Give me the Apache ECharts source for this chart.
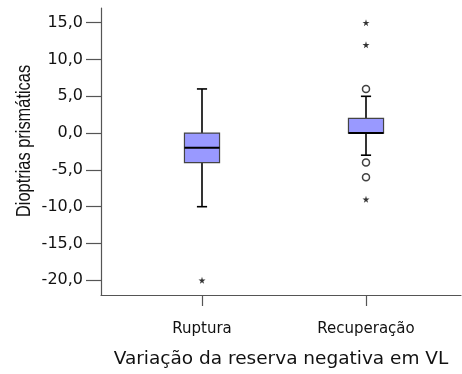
<!DOCTYPE html>
<html>
<head>
<meta charset="utf-8">
<script src="https://cdn.jsdelivr.net/npm/echarts@6/dist/echarts.min.js"></script>
<style>
  html, body { margin: 0; padding: 0; background: #fff; }
  #chart { width: 462px; height: 374px; }
</style>
</head>
<body>
<div id="chart"></div>
<script>
// dados
const categories = ['Ruptura', 'Recuperação'];
// [min, Q1, mediana, Q3, max] dos bigodes
const boxValues = [
  [-10, -4, -2, 0, 6],
  [-3, 0, 0, 2, 5]
];
// outliers (círculo) e extremos (estrela): [índice da categoria, valor]
const outliers = [[1, 6], [1, -4], [1, -6]];
const extremes = [[0, -20], [1, 15], [1, 12], [1, -9]];
const yTicks = [-20, -15, -10, -5, 0, 5, 10, 15];

const starPath = 'path://M50,0 L61,35 L98,35 L68,57 L79,91 L50,70 L21,91 L32,57 L2,35 L39,35 Z';

const chart = echarts.init(document.getElementById('chart'));

function renderBox(params, api) {
  const x = api.value(0);
  const band = api.size([1, 0])[0];
  const half = band * 0.107;
  const capHalf = band * 0.031;
  const pLow = api.coord([x, api.value(1)]);
  const pQ1 = api.coord([x, api.value(2)]);
  const pMed = api.coord([x, api.value(3)]);
  const pQ3 = api.coord([x, api.value(4)]);
  const pHigh = api.coord([x, api.value(5)]);
  const cx = pMed[0];
  const black = { stroke: '#000', lineWidth: 1.6 };
  return {
    type: 'group',
    children: [
      { type: 'line', shape: { x1: cx, y1: pHigh[1], x2: cx, y2: pQ3[1] }, style: black },
      { type: 'line', shape: { x1: cx, y1: pQ1[1], x2: cx, y2: pLow[1] }, style: black },
      { type: 'line', shape: { x1: cx - capHalf, y1: pHigh[1], x2: cx + capHalf, y2: pHigh[1] }, style: black },
      { type: 'line', shape: { x1: cx - capHalf, y1: pLow[1], x2: cx + capHalf, y2: pLow[1] }, style: black },
      {
        type: 'rect',
        shape: { x: cx - half, y: pQ3[1], width: half * 2, height: pQ1[1] - pQ3[1] },
        style: { fill: '#9999ff', stroke: '#444', lineWidth: 1.2 }
      },
      { type: 'line', shape: { x1: cx - half, y1: pMed[1], x2: cx + half, y2: pMed[1] }, style: { stroke: '#000', lineWidth: 2 } }
    ]
  };
}

chart.setOption({
  animation: false,
  graphic: [{
    type: 'text',
    x: 24, y: 141,
    rotation: Math.PI / 2,
    scaleX: 0.82,
    style: {
      text: 'Dioptrias prismáticas',
      font: '20px "Liberation Sans", Arial, sans-serif',
      fill: '#111',
      align: 'center', verticalAlign: 'middle'
    }
  }],
  grid: [
    { left: 101, right: 1, top: 8, bottom: 79 },
    { left: 120, right: 14, top: 8, bottom: 79 }
  ],
  xAxis: [
    {
      gridIndex: 0, type: 'value', min: 0, max: 1,
      axisLine: { show: true, onZero: false, lineStyle: { color: '#555', width: 1.2 } },
      axisTick: { show: false }, axisLabel: { show: false }, splitLine: { show: false },
      name: 'Variação da reserva negativa em VL',
      nameLocation: 'middle', nameGap: 55,
      nameTextStyle: { fontFamily: 'DejaVu Sans', fontSize: 18.5, color: '#111' }
    },
    {
      gridIndex: 1, type: 'category', data: categories,
      axisLine: { show: true, onZero: false, lineStyle: { opacity: 0 } },
      axisTick: { show: true, alignWithLabel: true, length: 11, lineStyle: { color: '#555', width: 1.2 } },
      axisLabel: { margin: 27, fontFamily: 'DejaVu Sans', fontSize: 15, color: '#111' },
      splitLine: { show: false }
    }
  ],
  yAxis: [
    {
      gridIndex: 0, type: 'value', min: -22, max: 17,
      axisLine: { show: true, lineStyle: { color: '#555', width: 1.2 } },
      axisTick: { show: true, customValues: yTicks, length: 15, lineStyle: { color: '#555', width: 1.2 } },
      axisLabel: {
        customValues: yTicks, margin: 18,
        fontFamily: 'DejaVu Sans', fontSize: 16, color: '#111',
        formatter: v => v.toFixed(1).replace('.', ',')
      },
      splitLine: { show: false }
    },
    {
      gridIndex: 1, type: 'value', min: -22, max: 17, show: false
    }
  ],
  series: [
    {
      type: 'custom',
      xAxisIndex: 1, yAxisIndex: 1,
      renderItem: renderBox,
      data: boxValues.map((b, i) => [i].concat(b)),
      z: 3
    },
    {
      type: 'scatter',
      xAxisIndex: 1, yAxisIndex: 1,
      data: outliers,
      symbol: 'circle', symbolSize: 7,
      itemStyle: { color: '#fff', borderColor: '#111', borderWidth: 1.5 },
      z: 4
    },
    {
      type: 'scatter',
      xAxisIndex: 1, yAxisIndex: 1,
      data: extremes,
      symbol: starPath, symbolSize: 7,
      itemStyle: { color: '#000' },
      z: 4
    }
  ]
});
</script>
</body>
</html>
